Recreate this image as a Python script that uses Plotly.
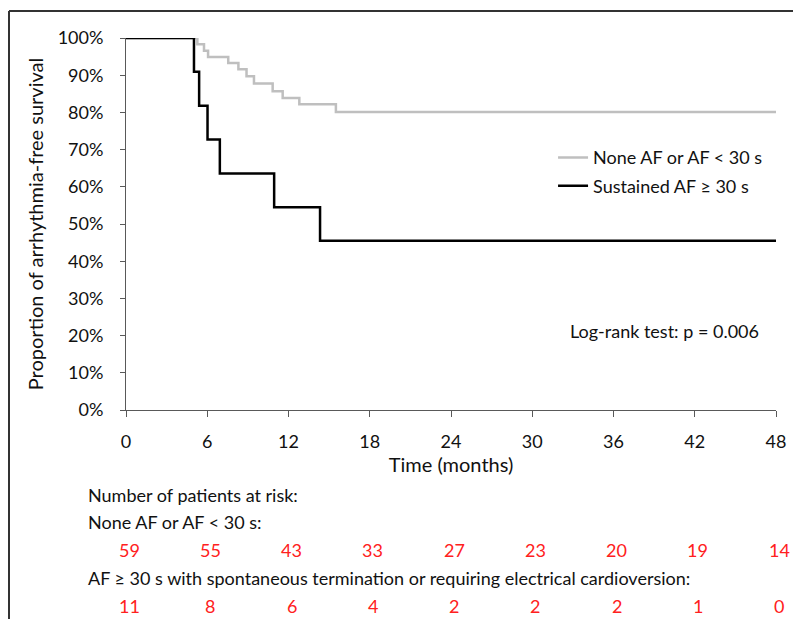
import plotly.graph_objects as go

# ---- data ----
months_none = [0, 5.27, 5.76, 6.06, 7.55, 8.3, 8.9, 9.45, 10.83, 11.57, 12.8, 15.5, 48]
surv_none = [1.0, 0.983, 0.966, 0.949, 0.933, 0.916, 0.897, 0.878, 0.857, 0.839, 0.822, 0.801, 0.801]

months_af = [0, 5.02, 5.4, 6.02, 6.93, 10.94, 14.33, 48]
surv_af = [1.0, 0.909, 0.818, 0.727, 0.636, 0.545, 0.455, 0.455]

tick_months = [0, 6, 12, 18, 24, 30, 36, 42, 48]
at_risk_none = [59, 55, 43, 33, 27, 23, 20, 19, 14]
at_risk_af = [11, 8, 6, 4, 2, 2, 2, 1, 0]

name_none = "None AF or AF < 30 s"
name_af = "Sustained AF ≥ 30 s"

FONT = "Lato"
TXT = "#111111"
AX = "#595959"

fig = go.Figure()
fig.add_trace(go.Scatter(x=months_none, y=surv_none, mode="lines", line_shape="hv",
                         line=dict(color="#BFBFBF", width=2.5), name=name_none,
                         legendgroup="a", cliponaxis=False))
fig.add_trace(go.Scatter(x=months_af, y=surv_af, mode="lines", line_shape="hv",
                         line=dict(color="#000000", width=2.5), name=name_af,
                         legendgroup="b", cliponaxis=False))

ann = []
# at-risk table
rows_y = {"hdr": -0.2285, "l1": -0.301, "n1": -0.376, "l2": -0.452, "n2": -0.527}
ann.append(dict(text="Number of patients at risk:", xref="paper", yref="paper", x=-0.0615,
                y=rows_y["hdr"], xanchor="left", yanchor="middle", showarrow=False,
                font=dict(family=FONT, size=18, color=TXT)))
ann.append(dict(text="None AF or AF < 30 s:", xref="paper", yref="paper", x=-0.0615,
                y=rows_y["l1"], xanchor="left", yanchor="middle", showarrow=False,
                font=dict(family=FONT, size=18, color=TXT)))
ann.append(dict(text="AF ≥ 30 s with spontaneous termination or requiring electrical cardioversion:",
                xref="paper", yref="paper", x=-0.0615, y=rows_y["l2"], xanchor="left",
                yanchor="middle", showarrow=False, font=dict(family=FONT, size=18, color=TXT)))
for m, n in zip(tick_months, at_risk_none):
    ann.append(dict(text=str(n), xref="x", yref="paper", x=m, y=rows_y["n1"], xshift=3,
                    showarrow=False, yanchor="middle", font=dict(family=FONT, size=18, color="#FF2020")))
for m, n in zip(tick_months, at_risk_af):
    ann.append(dict(text=str(n), xref="x", yref="paper", x=m, y=rows_y["n2"], xshift=3,
                    showarrow=False, yanchor="middle", font=dict(family=FONT, size=18, color="#FF2020")))
ann.append(dict(text="Log-rank test: p = 0.006", xref="paper", yref="paper", x=0.829, y=0.2124,
                xanchor="center", yanchor="middle", showarrow=False,
                font=dict(family=FONT, size=18, color=TXT)))

# the page adds an 8 px body margin, so the figure is 8 px smaller and offset
fig.update_layout(
    width=793, height=611,
    margin=dict(l=118, r=25, t=30, b=209),
    paper_bgcolor="white", plot_bgcolor="white",
    font=dict(family=FONT, size=18, color=TXT),
    showlegend=True,
    legend=dict(x=0.657, y=0.728, xanchor="left", yanchor="top", tracegroupgap=2,
                font=dict(family=FONT, size=18, color=TXT), bgcolor="rgba(0,0,0,0)"),
    annotations=ann,
    shapes=[
        dict(type="line", xref="paper", yref="paper", x0=-0.18, x1=1.2, y0=1.0726, y1=1.0726,
             line=dict(color="#333333", width=2)),
        dict(type="line", xref="paper", yref="paper", x0=-0.18, x1=-0.18, y0=1.0726, y1=-0.6,
             line=dict(color="#333333", width=2)),
    ],
)
fig.update_xaxes(range=[0, 48], tickvals=tick_months, showline=True, linecolor=AX, linewidth=1,
                 ticks="outside", ticklen=6, tickcolor=AX, showgrid=False, zeroline=False,
                 ticklabelstandoff=9, tickfont=dict(family=FONT, size=18, color=TXT),
                 title=dict(text="Time (months)", standoff=0, font=dict(family=FONT, size=20, color=TXT)))
fig.update_yaxes(range=[0, 1], dtick=0.1, tickformat=".0%", showline=True, linecolor=AX, linewidth=1,
                 ticks="outside", ticklen=5, tickcolor=AX, showgrid=False, zeroline=False,
                 ticklabelstandoff=13, tickfont=dict(family=FONT, size=18, color=TXT),
                 title=dict(text="Proportion of arrhythmia-free survival", standoff=8,
                            font=dict(family=FONT, size=20, color=TXT)))

fig.write_html("out.html")
